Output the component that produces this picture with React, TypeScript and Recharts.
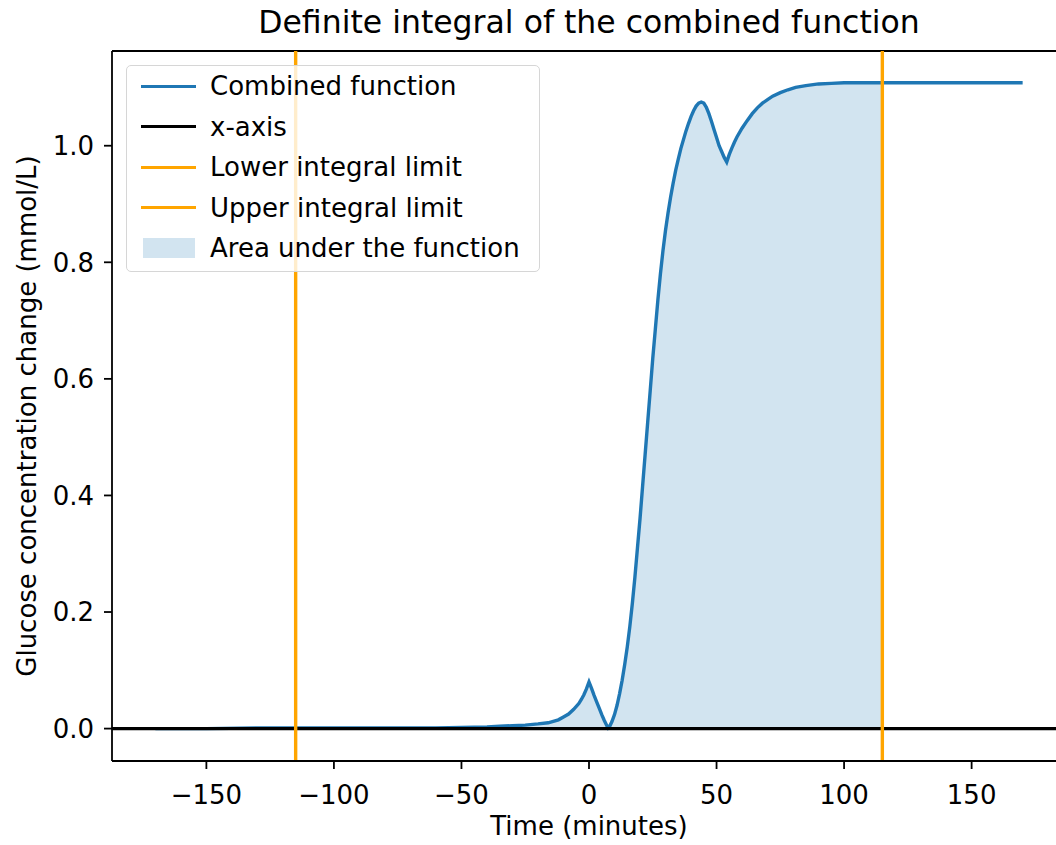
import React from "react"
import { ComposedChart, Line, Area, XAxis, YAxis, ReferenceLine } from "recharts"

const timePoints = [
  -170, -150, -130, -115, -100, -80, -60, -50, -40, -35, -30, -25, -20, -16, -12, -10, -8, -6, -4, -3, -2, -1,
  0, 1, 2, 3, 4, 5, 6, 7, 7.5, 8, 9, 10, 11, 12, 13, 14, 15, 16, 17, 18, 19, 20, 21, 22, 23, 24, 25, 26, 27,
  28, 29, 30, 31, 32, 33, 34, 35, 36, 37, 38, 39, 40, 41, 42, 43, 44, 45, 46, 47, 48, 49, 50, 51, 52, 53, 54,
  55, 56, 57, 58, 60, 62, 64, 66, 68, 70, 72, 75, 78, 81, 85, 90, 95, 100, 115, 130, 150, 170,
]

const combinedValues = [
  0.0, 0.0, 0.001, 0.001, 0.001, 0.001, 0.001, 0.002, 0.003, 0.004, 0.005, 0.006, 0.008, 0.01, 0.015, 0.02,
  0.025, 0.033, 0.043, 0.05, 0.058, 0.068,
  0.08, 0.069, 0.057, 0.046, 0.035, 0.024, 0.014, 0.005, 0.001, 0.003, 0.012, 0.024, 0.04, 0.06, 0.083, 0.11,
  0.14, 0.175, 0.215, 0.26, 0.31, 0.36, 0.415, 0.47, 0.525, 0.58, 0.635, 0.685, 0.735,
  0.78, 0.82, 0.855, 0.885, 0.912, 0.936, 0.958, 0.977, 0.995, 1.01, 1.025, 1.038, 1.05, 1.06, 1.068, 1.073,
  1.075, 1.073, 1.066, 1.055, 1.042, 1.028, 1.014, 1.0, 0.99, 0.98, 0.972,
  0.985, 0.996, 1.006, 1.015, 1.03, 1.043, 1.055, 1.065, 1.073, 1.079, 1.085, 1.091, 1.096, 1.1, 1.103, 1.106,
  1.107, 1.108, 1.108, 1.108, 1.108, 1.108,
]

const lowerLimit = -115
const upperLimit = 115

const xTicks = [-150, -100, -50, 0, 50, 100, 150]
const yTicks = [0, 0.2, 0.4, 0.6, 0.8, 1.0]

const X_DOMAIN: [number, number] = [-187, 187]
const Y_DOMAIN: [number, number] = [-0.0556, 1.1625]

const legendItems = [
  { label: "Combined function", color: "#1f77b4", kind: "line" },
  { label: "x-axis", color: "#000000", kind: "line" },
  { label: "Lower integral limit", color: "#ffa500", kind: "line" },
  { label: "Upper integral limit", color: "#ffa500", kind: "line" },
  { label: "Area under the function", color: "#1f77b4", kind: "patch" },
]

const data = timePoints.map((t, i) => ({
  t,
  y: combinedValues[i],
  area: t >= lowerLimit && t <= upperLimit ? combinedValues[i] : null,
}))

const FONT = "'DejaVu Sans', sans-serif"
const FS = 26

function fmtX(v: number) {
  return v < 0 ? "\u2212" + Math.abs(v) : String(v)
}

export default function App() {
  return (
    <div
      style={{
        position: "fixed",
        left: 0,
        top: 0,
        width: 1056,
        height: 845,
        overflow: "hidden",
        background: "#fff",
        fontFamily: FONT,
      }}
    >
      <ComposedChart
        width={1072}
        height={845}
        data={data}
        margin={{ top: 51, right: 6, bottom: 0, left: 0 }}
      >
        <XAxis
          dataKey="t"
          type="number"
          domain={X_DOMAIN}
          ticks={xTicks}
          tickFormatter={fmtX}
          height={84}
          tickSize={8}
          tickMargin={17}
          axisLine={{ stroke: "#000", strokeWidth: 1.8 }}
          tickLine={{ stroke: "#000", strokeWidth: 1.8 }}
          tick={{ fill: "#000", fontSize: FS, fontFamily: FONT }}
          allowDataOverflow
        />
        <YAxis
          type="number"
          domain={Y_DOMAIN}
          ticks={yTicks}
          tickFormatter={(v: number) => v.toFixed(1)}
          width={112}
          tickSize={8}
          tickMargin={10}
          axisLine={{ stroke: "#000", strokeWidth: 1.8 }}
          tickLine={{ stroke: "#000", strokeWidth: 1.8 }}
          tick={{ fill: "#000", fontSize: FS, fontFamily: FONT }}
          allowDataOverflow
        />
        <Area
          type="linear"
          dataKey="area"
          stroke="none"
          fill="#1f77b4"
          fillOpacity={0.2}
          baseValue={0}
          isAnimationActive={false}
          dot={false}
          activeDot={false}
        />
        <Line
          type="linear"
          dataKey="y"
          stroke="#1f77b4"
          strokeWidth={3.4}
          dot={false}
          activeDot={false}
          isAnimationActive={false}
        />
        {/* top spine */}
        <ReferenceLine y={Y_DOMAIN[1]} stroke="#000" strokeWidth={1.8} />
        <ReferenceLine y={0} stroke="#000" strokeWidth={3.4} />
        <ReferenceLine x={lowerLimit} stroke="#ffa500" strokeWidth={3.4} />
        <ReferenceLine x={upperLimit} stroke="#ffa500" strokeWidth={3.4} />
      </ComposedChart>

      <div
        style={{
          position: "absolute",
          left: 0,
          width: 1178,
          top: 4,
          textAlign: "center",
          fontSize: 31.5,
          color: "#000",
          whiteSpace: "nowrap",
        }}
      >
        Definite integral of the combined function
      </div>

      <div
        style={{
          position: "absolute",
          left: 589,
          top: 811,
          transform: "translateX(-50%)",
          fontSize: FS,
          color: "#000",
          whiteSpace: "nowrap",
        }}
      >
        Time (minutes)
      </div>

      <div
        style={{
          position: "absolute",
          left: 27,
          top: 416,
          transform: "translate(-50%, -50%) rotate(-90deg)",
          fontSize: FS,
          color: "#000",
          whiteSpace: "nowrap",
        }}
      >
        Glucose concentration change (mmol/L)
      </div>

      <div
        style={{
          position: "absolute",
          left: 126,
          top: 65,
          width: 414,
          height: 207,
          boxSizing: "border-box",
          border: "1.5px solid #d6d6d6",
          borderRadius: 5,
          background: "rgba(255,255,255,0.8)",
          paddingTop: 0,
        }}
      >
        {legendItems.map((item) => (
          <div
            key={item.label}
            style={{ display: "flex", alignItems: "center", height: 40.5, fontSize: FS, color: "#000" }}
          >
            <div style={{ width: 83, display: "flex", justifyContent: "center" }}>
              {item.kind === "line" ? (
                <div style={{ width: 55, height: 3.4, background: item.color }} />
              ) : (
                <div style={{ width: 52, height: 20, background: item.color, opacity: 0.2 }} />
              )}
            </div>
            <span>{item.label}</span>
          </div>
        ))}
      </div>
    </div>
  )
}
